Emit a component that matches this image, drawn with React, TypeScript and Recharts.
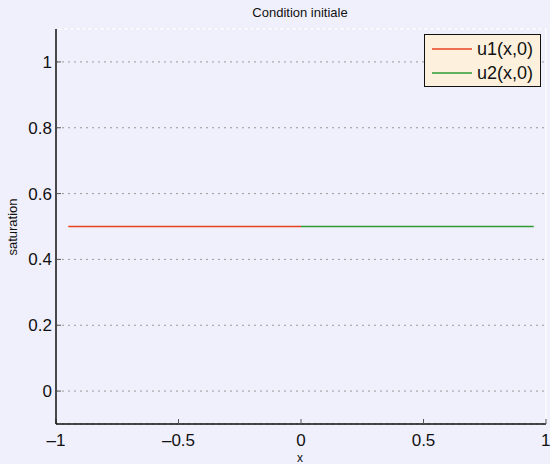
import React from 'react';
import {
  LineChart, Line, XAxis, YAxis, CartesianGrid, ReferenceLine,
} from 'recharts';

const u1Points = [
  { x: -0.95, u: 0.5 },
  { x: 0, u: 0.5 },
];
const u2Points = [
  { x: 0, u: 0.5 },
  { x: 0.95, u: 0.5 },
];
const xTicks = [-1, -0.5, 0, 0.5, 1];
const yTicks = [0, 0.2, 0.4, 0.6, 0.8, 1];
const seriesNames = ['u1(x,0)', 'u2(x,0)'];
const seriesColors = ['#e8431f', '#2f9a35'];

const BG = '#f0f0fc';
const FONT = 'Liberation Sans, Arial, sans-serif';
const fmt = (v: number) => (v < 0 ? `\u2013${Math.abs(v)}` : `${v}`);

// legend drawn outside the chart so it doesn't eat plot space
function LegendBox() {
  return (
    <div
      style={{
        position: 'absolute',
        left: 424,
        top: 34,
        background: '#fdf1dd',
        border: '1px solid #111',
        width: 115,
        height: 51,
        boxSizing: 'content-box',
        fontFamily: FONT,
        fontSize: 18,
        color: '#111',
      }}
    >
      {seriesNames.map((name, i) => (
        <div key={name} style={{ display: 'flex', alignItems: 'center', height: 24, marginTop: i === 0 ? 2 : 0 }}>
          <svg width={45} height={10} style={{ marginLeft: 7 }}>
            <line x1={0} y1={5} x2={40} y2={5} stroke={seriesColors[i]} strokeWidth={1.5} />
          </svg>
          <span>{name}</span>
        </div>
      ))}
    </div>
  );
}

export default function App() {
  return (
    <div style={{ width: 550, height: 464, background: BG, position: 'relative' }}>
      <style>{'body{margin:0;}'}</style>
      <LineChart
        width={550}
        height={464}
        margin={{ top: 29, right: 4, bottom: 0, left: 0 }}
        style={{ fontFamily: FONT }}
      >
        <CartesianGrid horizontal vertical={false} stroke="#999" strokeDasharray="2 4" />
        <XAxis
          type="number"
          dataKey="x"
          domain={[-1, 1]}
          ticks={xTicks}
          tickFormatter={fmt}
          height={40}
          tickSize={-5}
          tickMargin={15}
          tick={{ fill: '#111', fontSize: 17 }}
          axisLine={{ stroke: '#111', strokeWidth: 1.5 }}
          tickLine={{ stroke: '#555' }}
          allowDuplicatedCategory={false}
        />
        <YAxis
          type="number"
          domain={[-0.1, 1.1]}
          ticks={yTicks}
          tickFormatter={fmt}
          width={56}
          tickSize={-5}
          tickMargin={9}
          tick={{ fill: '#111', fontSize: 17 }}
          axisLine={{ stroke: '#111', strokeWidth: 1.5 }}
          tickLine={{ stroke: '#555' }}
        />
        <ReferenceLine y={1.1} stroke="#fafaff" strokeWidth={1.5} />
        <ReferenceLine x={1} stroke="#fafaff" strokeWidth={1.5} />
        <Line
          data={u1Points}
          dataKey="u"
          name={seriesNames[0]}
          stroke={seriesColors[0]}
          strokeWidth={1.5}
          dot={false}
          isAnimationActive={false}
        />
        <Line
          data={u2Points}
          dataKey="u"
          name={seriesNames[1]}
          stroke={seriesColors[1]}
          strokeWidth={1.5}
          dot={false}
          isAnimationActive={false}
        />
        <text x={300} y={17} textAnchor="middle" fontSize={13} fill="#111">Condition initiale</text>
        <text x={300} y={462} textAnchor="middle" fontSize={12} fill="#111">x</text>
        <text
          x={17}
          y={227}
          textAnchor="middle"
          fontSize={13}
          fill="#111"
          transform="rotate(-90, 17, 227)"
        >
          saturation
        </text>
      </LineChart>
      <LegendBox />
    </div>
  );
}
